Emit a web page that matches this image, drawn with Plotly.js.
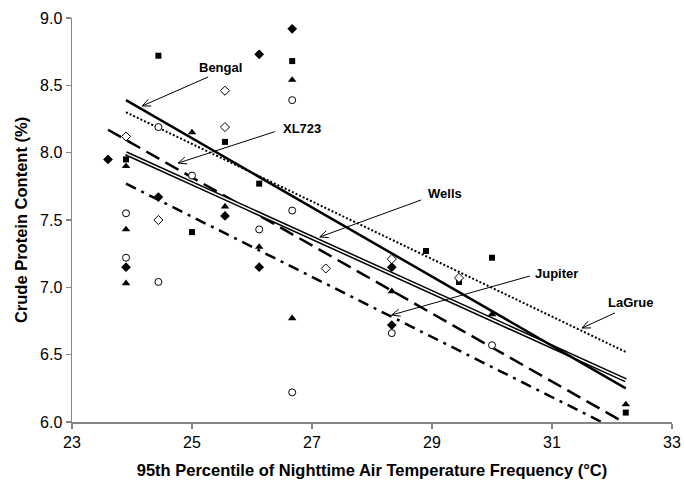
<!DOCTYPE html>
<html>
<head>
<meta charset="utf-8">
<script src="https://cdn.plot.ly/plotly-3.0.1.min.js"></script>
<style>html,body{margin:0;padding:0;background:#fff;}#chart{width:684px;height:482px;}</style>
</head>
<body>
<div id="chart"></div>
<script>
// ---- observed data (marker groups) ----
const filledDiamondX = [23.6, 23.9, 24.44, 25.55, 26.12, 26.12, 26.67, 28.33, 28.33];
const filledDiamondY = [7.95, 7.15, 7.67, 7.53, 8.73, 7.15, 8.92, 7.15, 6.72];

const filledSquareX = [23.9, 24.44, 25.0, 25.55, 26.12, 26.67, 28.9, 29.45, 30.0, 32.23];
const filledSquareY = [7.95, 8.72, 7.41, 8.08, 7.77, 8.68, 7.27, 7.04, 7.22, 6.07];

const filledTriangleX = [23.9, 23.9, 23.9, 25.0, 25.55, 26.12, 26.67, 26.67, 28.33, 30.0, 32.23];
const filledTriangleY = [7.90, 7.43, 7.03, 8.15, 7.60, 7.30, 8.54, 6.77, 6.97, 6.80, 6.13];

const openCircleX = [23.9, 23.9, 24.44, 24.44, 25.0, 26.12, 26.67, 26.67, 26.67, 28.33, 30.0];
const openCircleY = [7.55, 7.22, 8.19, 7.04, 7.83, 7.43, 8.39, 7.57, 6.22, 6.66, 6.57];

const openDiamondX = [23.9, 24.44, 25.55, 25.55, 27.23, 28.33, 29.45];
const openDiamondY = [8.12, 7.50, 8.46, 8.19, 7.14, 7.21, 7.07];

// ---- regression lines (end points) ----
const bengalX = [23.9, 32.23];   const bengalY = [8.39, 6.25];
const lagrueX = [23.9, 32.23];   const lagrueY = [8.30, 6.52];
const xl723X = [23.6, 32.23];    const xl723Y = [8.17, 5.99];
const wellsX = [23.9, 32.23];    const wellsY = [7.995, 6.31];
const jupiterX = [23.9, 32.23];  const jupiterY = [7.77, 5.91];

// ---- labels: name, arrow tip, arrow tail, text position (data units) ----
const labelNames = ['Bengal', 'XL723', 'Wells', 'Jupiter', 'LaGrue'];
const tipX  = [24.17, 24.77, 27.13, 28.33, 31.50];
const tipY  = [8.347, 7.923, 7.374, 6.795, 6.698];
const tailX = [25.27, 26.38, 28.82, 30.63, 32.05];
const tailY = [8.562, 8.156, 7.649, 7.084, 6.81];
const textX = [25.47, 26.84, 29.22, 31.07, 32.32];
const textY = [8.63, 8.176, 7.70, 7.10, 6.885];

const xRange = [23, 33], yRange = [6, 9];
const W = 684, H = 482, M = {l: 72, r: 12, t: 18, b: 60};
const pxPerX = (W - M.l - M.r) / (xRange[1] - xRange[0]);
const pxPerY = (H - M.t - M.b) / (yRange[1] - yRange[0]);

const traces = [];
function line(x, y, w, dash, color) {
  traces.push({x: x, y: y, type: 'scatter', mode: 'lines', hoverinfo: 'skip', showlegend: false,
    line: {color: color || '#000', width: w, dash: dash || 'solid'}});
}
line(lagrueX, lagrueY, 2, '2px,2px');
line(xl723X, xl723Y, 2.5, '15px,7px');
line(jupiterX, jupiterY, 2.5, '11px,6px,3px,6px');
line(wellsX, wellsY, 4.5, 'solid', '#000');
line(wellsX, wellsY, 1.5, 'solid', '#fff');
line(bengalX, bengalY, 2.5, 'solid');

function pts(x, y, symbol, size, open) {
  traces.push({x: x, y: y, type: 'scatter', mode: 'markers', hoverinfo: 'skip', showlegend: false,
    marker: {symbol: symbol, size: size, color: open ? '#fff' : '#000', line: {color: '#000', width: open ? 1 : 0}}});
}
pts(filledDiamondX, filledDiamondY, 'diamond', 7.5, false);
pts(filledSquareX, filledSquareY, 'square', 6, false);
pts(filledTriangleX, filledTriangleY, 'triangle-up', 7.5, false);
pts(openCircleX, openCircleY, 'circle', 7, true);
pts(openDiamondX, openDiamondY, 'diamond', 7, true);

const shapes = [], annotations = [];
for (let i = 0; i < labelNames.length; i++) {
  const dxp = (tailX[i] - tipX[i]) * pxPerX, dyp = -(tailY[i] - tipY[i]) * pxPerY;
  const L = Math.hypot(dxp, dyp), ux = dxp / L, uy = dyp / L;
  const hl = 9, ang = 0.42;
  const h1x = tipX[i] + (hl * (ux * Math.cos(ang) - uy * Math.sin(ang))) / pxPerX;
  const h1y = tipY[i] - (hl * (ux * Math.sin(ang) + uy * Math.cos(ang))) / pxPerY;
  const h2x = tipX[i] + (hl * (ux * Math.cos(-ang) - uy * Math.sin(-ang))) / pxPerX;
  const h2y = tipY[i] - (hl * (ux * Math.sin(-ang) + uy * Math.cos(-ang))) / pxPerY;
  shapes.push({type: 'path', xref: 'x', yref: 'y', line: {color: '#000', width: 1},
    path: `M${tailX[i]},${tailY[i]} L${tipX[i]},${tipY[i]} M${h1x},${h1y} L${tipX[i]},${tipY[i]} L${h2x},${h2y}`});
  annotations.push({x: textX[i], y: textY[i], xref: 'x', yref: 'y', text: '<b>' + labelNames[i] + '</b>',
    showarrow: false, font: {family: 'Liberation Sans, Arial, sans-serif', size: 13, color: '#000'}});
}

const layout = {
  width: W, height: H, margin: M, paper_bgcolor: '#fff', plot_bgcolor: '#fff', showlegend: false,
  font: {family: 'Liberation Sans, Arial, sans-serif', color: '#000'},
  xaxis: {range: xRange, dtick: 2, tick0: 23, showgrid: false, zeroline: false, showline: true,
    linecolor: '#868686', linewidth: 1.5, ticks: 'outside', ticklen: 5, tickcolor: '#868686', tickwidth: 1.5,
    tickfont: {size: 16}, title: {text: '<b>95th Percentile of Nighttime Air Temperature Frequency (°C)</b>', font: {size: 16.5}, standoff: 14}},
  yaxis: {range: yRange, dtick: 0.5, tick0: 6, tickformat: '.1f', showgrid: false, zeroline: false, showline: true,
    linecolor: '#868686', linewidth: 1.5, ticks: 'outside', ticklen: 5, tickcolor: '#868686', tickwidth: 1.5,
    tickfont: {size: 16}, title: {text: '<b>Crude Protein Content (%)</b>', font: {size: 16.5}, standoff: 8}},
  shapes: shapes, annotations: annotations
};
Plotly.newPlot('chart', traces, layout, {staticPlot: true, displayModeBar: false});
</script>
</body>
</html>
